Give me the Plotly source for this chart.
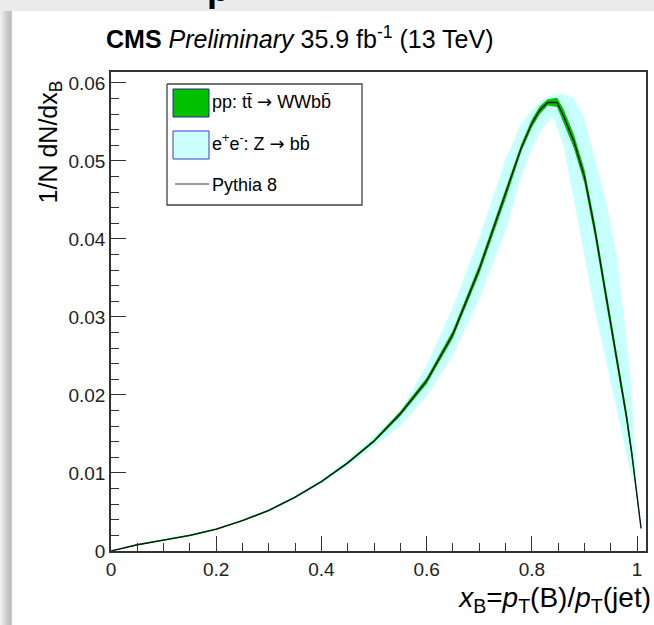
import plotly.graph_objects as go

# ---------------- data ----------------
x_line = [0.0, 0.05, 0.1, 0.15, 0.2, 0.25, 0.3, 0.35, 0.4, 0.45, 0.5, 0.55, 0.6, 0.65, 0.7,
          0.75, 0.78, 0.8, 0.815, 0.83, 0.848, 0.86, 0.88, 0.9, 0.92, 0.94, 0.96, 0.98, 0.99, 1.0, 1.0076]
y_pythia = [0.0, 0.0008, 0.0014, 0.0020, 0.0028, 0.0039, 0.0052, 0.0069, 0.0089, 0.0113, 0.0141, 0.0176,
            0.0218, 0.0278, 0.0361, 0.0457, 0.0517, 0.0548, 0.0565, 0.0575, 0.0575, 0.0558, 0.0525,
            0.0480, 0.0411, 0.0331, 0.0253, 0.0172, 0.0125, 0.0073, 0.0029]
pp_err = [0.0, 0.0001, 0.0001, 0.0001, 0.0001, 0.0001, 0.0001, 0.0001, 0.0001, 0.00015, 0.0002, 0.0003,
          0.0004, 0.0005, 0.0006, 0.0006, 0.0005, 0.0005, 0.0005, 0.0004, 0.0006, 0.0009, 0.0009,
          0.0009, 0.0009, 0.0009, 0.0009, 0.0008, 0.0007, 0.0005, 0.0002]

x_ee = [0.0, 0.05, 0.1, 0.15, 0.2, 0.25, 0.3, 0.35, 0.4, 0.45, 0.5, 0.55, 0.6, 0.65, 0.7, 0.75,
        0.78, 0.8, 0.82, 0.84, 0.86, 0.88, 0.9, 0.92, 0.94, 0.96, 0.98, 0.99, 0.999]
ee_low = [0.0, 0.0007, 0.0013, 0.0019, 0.0027, 0.0038, 0.0050, 0.0067, 0.0086, 0.0109, 0.0135, 0.0160,
          0.0198, 0.0251, 0.0323, 0.0410, 0.0480, 0.0515, 0.0542, 0.0557, 0.0520, 0.0448, 0.0376,
          0.0307, 0.0246, 0.0187, 0.0124, 0.0094, 0.0088]
ee_high = [0.0, 0.0009, 0.0015, 0.0021, 0.0029, 0.0040, 0.0054, 0.0071, 0.0092, 0.0117, 0.0147, 0.0180,
           0.0238, 0.0313, 0.0402, 0.0502, 0.0548, 0.0565, 0.0578, 0.0585, 0.0586, 0.0580, 0.0554,
           0.0503, 0.0451, 0.0384, 0.0271, 0.0203, 0.0098]

y_tickvals = [0, 0.01, 0.02, 0.03, 0.04, 0.05, 0.06]
y_ticktext = ["0", "0.01", "0.02", "0.03", "0.04", "0.05", "0.06"]
x_tickvals = [0, 0.2, 0.4, 0.6, 0.8, 1.0]
x_ticktext = ["0", "0.2", "0.4", "0.6", "0.8", "1"]

ARROW = "<span style='font-family:DejaVu Sans'>\u2192</span>"
legend_labels = ["pp: tt\u0304 " + ARROW + " WWbb\u0304",
                 "e<sup>+</sup>e<sup>-</sup>: Z " + ARROW + " bb\u0304",
                 "Pythia 8"]
legend_fills = ["#00c000", "#ccffff"]
legend_edges = ["#2b2b8c", "#3a3acc"]

title_text = "<b>CMS</b> <i>Preliminary</i> 35.9 fb<sup>-1</sup> (13 TeV)"
ytitle_text = "1/N dN/dx<sub>B</sub>"
xtitle_text = "<i>x</i><sub>B</sub>=<i>p</i><sub>T</sub>(B)/<i>p</i><sub>T</sub>(jet)"

# ---------------- figure ----------------
W, H = 654, 625
L, R, T, B = 111, 646, 72, 551
FONT = "Liberation Sans, Arial, Helvetica, sans-serif"


def box(x0, x1, y0, y1):
    return [x0, x1, x1, x0, x0], [y0, y0, y1, y1, y0]


pp_low = [v - e for v, e in zip(y_pythia, pp_err)]
pp_high = [v + e for v, e in zip(y_pythia, pp_err)]

fig = go.Figure()
fig.add_trace(go.Scatter(x=x_ee, y=ee_low, mode="lines", line=dict(width=0), showlegend=False,
                         hoverinfo="skip"))
fig.add_trace(go.Scatter(x=x_ee, y=ee_high, mode="lines", line=dict(width=0), fill="tonexty",
                         fillcolor="#c8ffff", showlegend=False, hoverinfo="skip"))
fig.add_trace(go.Scatter(x=x_line, y=pp_low, mode="lines", line=dict(width=0), showlegend=False,
                         hoverinfo="skip"))
fig.add_trace(go.Scatter(x=x_line, y=pp_high, mode="lines", line=dict(width=0), fill="tonexty",
                         fillcolor="#00c000", showlegend=False, hoverinfo="skip"))
fig.add_trace(go.Scatter(x=x_line, y=y_pythia, mode="lines", line=dict(color="#0a1a0a", width=1.4),
                         showlegend=False, hoverinfo="skip"))

# ---- decorations and texts on a pixel-space overlay subplot (x2/y2) ----
deco = dict(xaxis="x2", yaxis="y2", showlegend=False, hoverinfo="skip")
bx, by = box(-2, W + 2, -2, 11)
fig.add_trace(go.Scatter(x=bx, y=by, mode="lines", fill="toself", fillcolor="#ebebeb", line=dict(width=0),
                         **deco))
for i, c in enumerate(["#f0f0f0", "#ececec", "#e6e6e6", "#e0e0e0", "#dadada", "#d4d4d4",
                       "#cecece", "#c9c9c9", "#c5c5c5", "#c1c1c1", "#bebebe", "#c9c9c9"]):
    bx, by = box(i, i + 1.05, 11, H + 2)
    fig.add_trace(go.Scatter(x=bx, y=by, mode="lines", fill="toself", fillcolor=c, line=dict(width=0), **deco))
bx, by = box(167, 362, 84, 205)
fig.add_trace(go.Scatter(x=bx, y=by, mode="lines", fill="toself", fillcolor="white",
                         line=dict(color="#444", width=1.3), **deco))
for (y0, y1), fc, ec in zip([(89, 117), (131, 159)], legend_fills, legend_edges):
    bx, by = box(173, 209, y0, y1)
    fig.add_trace(go.Scatter(x=bx, y=by, mode="lines", fill="toself", fillcolor=fc, line=dict(color=ec, width=1),
                             **deco))
fig.add_trace(go.Scatter(x=[175, 209], y=[184, 184], mode="lines", line=dict(color="#333", width=1.2), **deco))

# texts
fig.add_trace(go.Scatter(x=[106], y=[42], mode="text", text=[title_text], textposition="middle right",
                         textfont=dict(size=25, color="black", family=FONT), cliponaxis=False, **deco))
fig.add_trace(go.Scatter(x=[651], y=[600], mode="text", text=[xtitle_text], textposition="middle left",
                         textfont=dict(size=28, color="black", family=FONT), cliponaxis=False, **deco))
fig.add_trace(go.Scatter(x=[212, 212, 212], y=[103, 145, 186], mode="text", text=legend_labels,
                         textposition="middle right", textfont=dict(size=18, color="black", family=FONT),
                         cliponaxis=False, **deco))
fig.add_trace(go.Scatter(x=[218], y=[10], mode="text", text=["<b>p</b>"], textposition="top center",
                         textfont=dict(size=36, color="black", family=FONT), cliponaxis=True, **deco))
# invisible trace carrying the rotated y-axis title axis
fig.add_trace(go.Scatter(x=[0], y=[0], xaxis="x2", yaxis="y3", mode="markers", marker=dict(opacity=0),
                         showlegend=False, hoverinfo="skip"))

axis_common = dict(ticks="inside", ticklen=15, tickwidth=1.2, tickcolor="#333", showline=True, mirror=True,
                   linecolor="#333", linewidth=1.6, showgrid=False, zeroline=False,
                   tickfont=dict(size=19, color="#222", family=FONT))
fig.update_layout(
    width=W, height=H,
    margin=dict(l=0, r=0, t=0, b=0, autoexpand=False),
    paper_bgcolor="white", plot_bgcolor="rgba(0,0,0,0)",
    showlegend=False,
    xaxis=dict(domain=[L / W, R / W], range=[0, 1.017], tickvals=x_tickvals, ticktext=x_ticktext,
               anchor="y", minor=dict(dtick=0.05, ticks="inside", ticklen=8, tickcolor="#333", tickwidth=1),
               **axis_common),
    yaxis=dict(domain=[1 - B / H, 1 - T / H], range=[0, 0.0614], tickvals=y_tickvals, ticktext=y_ticktext,
               anchor="x", minor=dict(dtick=0.002, ticks="inside", ticklen=8, tickcolor="#333", tickwidth=1),
               **axis_common),
    xaxis2=dict(domain=[0, 1], range=[0, W], visible=False, anchor="y2", fixedrange=True),
    yaxis2=dict(domain=[0, 1], range=[H, 0], visible=False, anchor="x2", fixedrange=True),
    yaxis3=dict(domain=[1 - 216 / H, 1 - 68 / H], anchor="free", position=66 / W, side="left",
                showticklabels=False, ticks="", showline=False, showgrid=False, zeroline=False,
                range=[-1, 1], fixedrange=True,
                title=dict(text=ytitle_text, standoff=0, font=dict(size=25, color="black", family=FONT))),
)

fig.write_html("out.html")
